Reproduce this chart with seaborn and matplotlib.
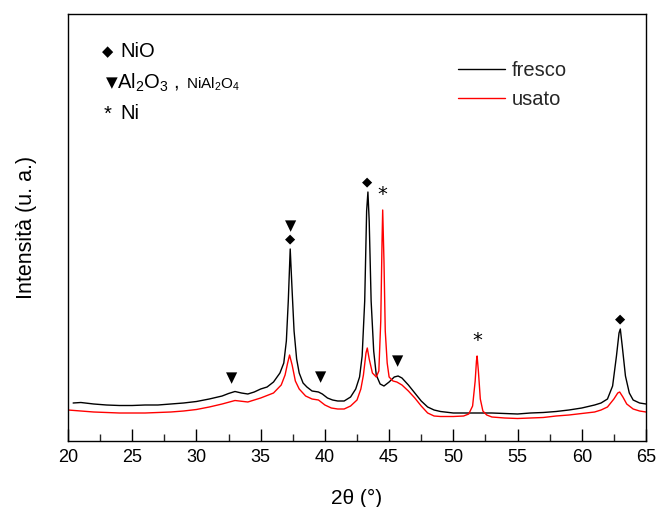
import numpy as np
import pandas as pd
import matplotlib
matplotlib.use("Agg")
import matplotlib.pyplot as plt
import seaborn as sns

# XRD pattern of the fresh catalyst (2theta in degrees, intensity in arbitrary units)
fresco_2theta = [20.4, 21, 22, 23, 24, 25, 26, 27, 28, 29, 30, 31, 32, 32.5, 33, 33.5, 34,
                 34.5, 35, 35.5, 36, 36.5, 36.8, 37.0, 37.15, 37.3, 37.45, 37.6, 37.8, 38.0,
                 38.3, 38.6, 39, 39.5, 39.8, 40.2, 40.6, 41, 41.5, 42, 42.4, 42.7, 42.9, 43.1,
                 43.25, 43.35, 43.45, 43.6, 43.8, 44.0, 44.3, 44.6, 45.0, 45.4, 45.7, 46.0,
                 46.5, 47, 47.5, 48, 48.5, 49, 50, 51, 52, 53, 54, 55, 56, 57, 58, 59, 60, 61,
                 61.5, 62, 62.4, 62.7, 62.9, 63.0, 63.15, 63.4, 63.7, 64, 64.5, 65]
fresco_int = [38, 38.5, 37, 36, 35.5, 35.5, 36, 36, 37, 38, 39.5, 42, 45, 47.5, 49.5, 48, 47,
              49, 52, 54, 59, 68, 78, 100, 140, 192, 150, 110, 82, 68,
              58, 54, 50, 49, 47, 43, 41, 40, 40, 44, 52, 64, 85, 140,
              230, 249, 220, 140, 90, 66, 57, 55, 59, 64, 65, 63,
              56, 48, 40, 34, 31, 29.5, 28, 28, 28, 28, 27.5, 27, 28, 28.5, 29.5, 31, 33, 36,
              38, 42, 55, 85, 108, 112, 95, 65, 48, 41, 38, 37]

# XRD pattern of the used catalyst
usato_2theta = [20, 21, 22, 23, 24, 25, 26, 27, 28, 29, 30, 31, 32, 33, 34, 35, 36, 36.6,
                36.9, 37.1, 37.25, 37.45, 37.7, 38, 38.5, 39, 39.5, 40, 40.5, 41, 41.5, 42,
                42.5, 42.8, 43.0, 43.2, 43.3, 43.45, 43.7, 44.0, 44.2, 44.35, 44.45, 44.5,
                44.6, 44.7, 44.85, 45.0, 45.3, 45.6, 46, 46.5, 47, 47.5, 48, 48.5, 49, 50,
                50.8, 51.2, 51.5, 51.7, 51.8, 51.85, 51.95, 52.1, 52.3, 52.6, 53, 54, 55, 56,
                57, 58, 59, 60, 61, 61.5, 62, 62.5, 62.8, 62.95, 63.2, 63.5, 64, 64.5, 65]
usato_int = [31, 30, 29, 28.5, 28, 28, 28, 28.5, 29, 30, 31.5, 34, 37, 40.5, 39, 43, 48, 56,
             66, 78, 86, 76, 60, 52, 45, 42, 41, 36, 33, 32, 32, 35,
             41, 52, 66, 88, 93, 82, 68, 64, 70, 120, 200, 231,
             180, 110, 78, 64, 60, 59, 56, 50, 43, 35, 28, 25, 24.5, 24.5,
             25, 27, 35, 60, 80, 85, 70, 42, 30, 26, 24, 23, 22.5, 23,
             23.5, 25, 26, 27.5, 29, 31, 34, 42, 48, 49, 44, 37, 32, 30, 29]

series_names = ["fresco", "usato"]
series_colors = ["black", "red"]

# Reflection positions of the identified phases
nio_peaks = [37.3, 43.3, 63.0]
al2o3_peaks = [32.75, 37.3, 39.7, 45.65]
ni_peaks = [44.5, 51.85]

x_ticks = [20, 25, 30, 35, 40, 45, 50, 55, 60, 65]

df = pd.concat([
    pd.DataFrame({"2theta": fresco_2theta, "I": fresco_int, "campione": "fresco"}),
    pd.DataFrame({"2theta": usato_2theta, "I": usato_int, "campione": "usato"}),
])

sns.set_theme(style="white")
plt.rcParams["font.family"] = ["Liberation Sans", "DejaVu Sans"]
plt.rcParams["mathtext.fontset"] = "custom"
plt.rcParams["mathtext.rm"] = "Liberation Sans"
plt.rcParams["mathtext.it"] = "Liberation Sans:italic"

fig = plt.figure(figsize=(6.56, 5.07), dpi=100)
ax = fig.add_axes([68 / 656, 66 / 507, 578 / 656, 427 / 507])

sns.lineplot(data=df, x="2theta", y="I", hue="campione", hue_order=series_names,
             palette=dict(zip(series_names, series_colors)), estimator=None,
             linewidth=1.0, ax=ax, legend=False)

ax.set_xlim(20, 65)
ax.set_ylim(0, 427)
ax.set_xticks(x_ticks)
ax.set_xticks(np.arange(22.5, 65, 5), minor=True)
ax.set_yticks([])
ax.tick_params(axis="x", which="major", direction="in", length=9, width=1,
               labelsize=13, pad=6, colors="black", bottom=True)
ax.tick_params(axis="x", which="minor", direction="in", length=5, width=1, bottom=True)
for sp in ax.spines.values():
    sp.set_color("black")
    sp.set_linewidth(1.0)

ax.set_xlabel("2θ (°)", fontsize=15, color="black", labelpad=16)
ax.set_ylabel("Intensità (u. a.)", fontsize=15.5, color="black", labelpad=22)

curves = {"fresco": (np.array(fresco_2theta), np.array(fresco_int)),
          "usato": (np.array(usato_2theta), np.array(usato_int))}


def peak_height(pos, name, win=0.2):
    xs, ys = curves[name]
    m = (xs >= pos - win) & (xs <= pos + win)
    return ys[m].max() if m.any() else np.interp(pos, xs, ys)


def mark(pos, name, symbol, dy, size):
    y = peak_height(pos, name)
    ax.annotate(symbol, xy=(pos, y), xytext=(0, dy), textcoords="offset points",
                ha="center", va="center", fontsize=size, color="black",
                family=["DejaVu Sans"])


# Phase markers above the reflections
for p in nio_peaks:
    mark(p, "fresco", "\u25c6", 7.5, 9.5)
for p in al2o3_peaks:
    off = 17 if abs(p - 37.3) < 0.1 else 11
    mark(p, "fresco", "\u25bc", off, 10.5)
for p in ni_peaks:
    mark(p, "usato", "*", 11, 14)

# Phase key
key_kw = dict(transform=ax.transAxes, color="black", va="center")
ax.text(0.069, 0.912, "\u25c6", fontsize=10.5, family=["DejaVu Sans"], ha="center", **key_kw)
ax.text(0.090, 0.912, "NiO", fontsize=14.5, **key_kw)
ax.text(0.076, 0.840, "\u25bc", fontsize=11, family=["DejaVu Sans"], ha="center", **key_kw)
ax.text(0.085, 0.838, r"Al$_2$O$_3$ ,", fontsize=14.5, **key_kw)
ax.text(0.204, 0.836, r"NiAl$_2$O$_4$", fontsize=11, **key_kw)
ax.text(0.069, 0.764, "*", fontsize=14.5, ha="center", **key_kw)
ax.text(0.091, 0.768, "Ni", fontsize=14.5, **key_kw)

# Sample legend
handles = [plt.Line2D([], [], color=c, linewidth=1.0) for c in series_colors]
ax.legend(handles, series_names, loc="upper left", bbox_to_anchor=(0.674, 0.89),
          frameon=False, fontsize=14.5, handlelength=2.35, handletextpad=0.35,
          labelspacing=0.5, borderpad=0, borderaxespad=0)

fig.savefig("out.png", dpi=100)
